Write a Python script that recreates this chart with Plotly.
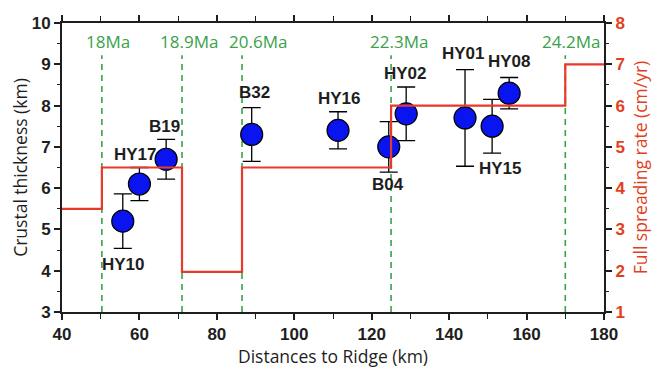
import plotly.graph_objects as go

# Sample data: distance to ridge (km), crustal thickness (km), error
sites = ["HY10", "HY17", "B19", "B32", "HY16", "B04", "HY02", "HY01", "HY15", "HY08"]
dist_km = [55.7, 60.0, 66.9, 89.0, 111.3, 124.4, 128.9, 144.1, 151.1, 155.5]
thickness = [5.2, 6.1, 6.7, 7.3, 7.4, 7.0, 7.8, 7.7, 7.5, 8.3]
err = [0.66, 0.40, 0.48, 0.65, 0.45, 0.61, 0.65, 1.17, 0.65, 0.38]
label_x = [56.0, 58.9, 66.4, 89.6, 111.6, 124.2, 128.7, 143.8, 153.2, 155.7]
label_y = [4.14, 6.82, 7.49, 8.31, 8.17, 6.08, 8.77, 9.27, 6.48, 9.06]

# Full spreading rate step function (cm/yr)
rate_x = [40, 50.3, 71.0, 86.5, 125.0, 170.0, 180]
rate_y = [3.5, 4.5, 1.97, 4.5, 6.0, 7.0, 7.0]

# Magnetic age boundaries
age_x = [50.3, 71.0, 86.5, 125.0, 170.0]
age_labels = ["18Ma", "18.9Ma", "20.6Ma", "22.3Ma", "24.2Ma"]
age_label_x = [52.0, 72.8, 90.7, 127.0, 171.6]

RED = "#e8392b"
TRED = "#e2401c"
GREEN = "#3aa14a"
BOLD = "Liberation Sans"
REG = "Open Sans"
INK = "#1e1e1e"

fig = go.Figure()

fig.add_trace(go.Scatter(x=rate_x, y=rate_y, mode="lines", line=dict(color=RED, width=2.2, shape="hv"),
                         yaxis="y2", showlegend=False, hoverinfo="skip"))

for ax in age_x:
    fig.add_trace(go.Scatter(x=[ax, ax], y=[3, 9.22], mode="lines",
                             line=dict(color=GREEN, width=1.6, dash="6px,5px"),
                             showlegend=False, hoverinfo="skip"))

fig.add_trace(go.Scatter(
    x=dist_km, y=thickness, mode="markers",
    marker=dict(size=22, color="#0a14f0", line=dict(color="black", width=1.2)),
    error_y=dict(type="data", array=err, arrayminus=err, color="black", thickness=1.3, width=9),
    showlegend=False))

annotations = []
for t, x, y in zip(sites, label_x, label_y):
    annotations.append(dict(x=x, y=y, xref="x", yref="y", text=f"<b>{t}</b>", showarrow=False,
                            font=dict(family=BOLD, size=17, color=INK), xanchor="center", yanchor="middle"))
for t, x in zip(age_labels, age_label_x):
    annotations.append(dict(x=x, y=9.55, xref="x", yref="y", text=t, showarrow=False,
                            font=dict(family=REG, size=17, color=GREEN), xanchor="center", yanchor="middle"))

tickbold = dict(family=BOLD, size=17, color=INK, weight="bold")

# the page body has an 8px margin, so the figure is offset by 8px
fig.update_layout(
    width=664, height=369,
    margin=dict(l=54, r=68, t=15, b=65, autoexpand=False),
    plot_bgcolor="white", paper_bgcolor="white",
    annotations=annotations,
    xaxis=dict(range=[40, 180], dtick=20, tick0=40, ticks="outside", ticklen=6, tickwidth=1.5, tickcolor=INK,
               minor=dict(dtick=10, ticks="outside", ticklen=5, tickwidth=1.2, tickcolor=INK),
               showline=True, linecolor=INK, linewidth=2, mirror="ticks", showgrid=False, zeroline=False,
               tickfont=tickbold, automargin=False,
               title=dict(text="Distances to Ridge (km)", font=dict(family=REG, size=17.5, color=INK), standoff=6)),
    yaxis=dict(range=[3, 10], dtick=1, ticks="outside", ticklen=6, tickwidth=1.5, tickcolor=INK,
               minor=dict(dtick=0.5, ticks="outside", ticklen=3, tickwidth=1.2, tickcolor=INK),
               showline=True, linecolor=INK, linewidth=2, showgrid=False, zeroline=False,
               tickfont=tickbold, automargin=False,
               title=dict(text="Crustal thickness (km)", font=dict(family=REG, size=17.5, color=INK), standoff=4)),
    yaxis2=dict(range=[1, 8], dtick=1, overlaying="y", side="right", ticks="outside", ticklen=6, tickwidth=1.5,
                tickcolor=INK,
                minor=dict(dtick=0.5, ticks="outside", ticklen=3, tickwidth=1.2, tickcolor=INK),
                showline=True, linecolor=INK, linewidth=2, showgrid=False, zeroline=False,
                tickfont=dict(family=BOLD, size=17, color=TRED, weight="bold"), automargin=False,
                title=dict(text="Full spreading rate (cm/yr)", font=dict(family=REG, size=17.5, color=TRED), standoff=10)),
)

fig.write_html("out.html")
